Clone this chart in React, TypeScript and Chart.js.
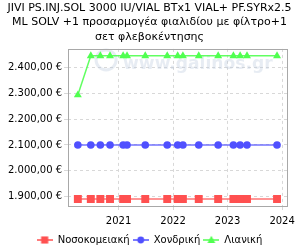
import React, { useEffect, useRef } from "react";
import { Chart, registerables } from "chart.js";

Chart.register(...registerables);

const titleLines = [
  "JIVI PS.INJ.SOL 3000 IU/VIAL BTx1 VIAL+ PF.SYRx2.5",
  "ML SOLV +1 προσαρμογέα φιαλιδίου με φίλτρο+1",
  "σετ φλεβοκέντησης",
];

const dates = [
  "2020-04-03", "2020-06-29", "2020-09-01", "2020-11-05",
  "2021-02-01", "2021-02-27", "2021-06-29", "2021-11-23",
  "2022-02-01", "2022-03-08", "2022-06-22", "2022-10-30",
  "2023-02-09", "2023-03-26", "2023-05-11", "2023-11-28",
];

const hospital = [1890, 1890, 1890, 1890, 1890, 1890, 1890, 1890, 1890, 1890, 1890, 1890, 1890, 1890, 1890, 1890];
const wholesale = [2100, 2100, 2100, 2100, 2100, 2100, 2100, 2100, 2100, 2100, 2100, 2100, 2100, 2100, 2100, 2100];
const retail = [2294, 2446, 2446, 2446, 2446, 2446, 2446, 2446, 2446, 2446, 2446, 2446, 2446, 2446, 2446, 2446];

const seriesNames = ["Νοσοκομειακή", "Χονδρική", "Λιανική"];
const yearTicks = [2021, 2022, 2023, 2024];
const priceTicks = [1900, 2000, 2100, 2200, 2300, 2400];

const xMin = 2020.075;
const xMax = 2024.095;
const yMin = 1863;
const yMax = 2473;

function toYear(s: string): number {
  const [y, m, d] = s.split("-").map(Number);
  const start = Date.UTC(y, 0, 1);
  const end = Date.UTC(y + 1, 0, 1);
  return y + (Date.UTC(y, m - 1, d) - start) / (end - start);
}

function fmtEuro(v: number): string {
  const s = Math.round(v).toString().replace(/\B(?=(\d{3})+(?!\d))/g, ".");
  return s + ",00 €";
}

function legendIcon(color: string, style: string, r: number): HTMLCanvasElement {
  const c = document.createElement("canvas");
  c.width = 16;
  c.height = 12;
  const ctx = c.getContext("2d")!;
  ctx.strokeStyle = color;
  ctx.lineWidth = 1.5;
  ctx.beginPath();
  ctx.moveTo(0, 6);
  ctx.lineTo(16, 6);
  ctx.stroke();
  ctx.fillStyle = color;
  ctx.beginPath();
  if (style === "rect") {
    const s = r * Math.SQRT1_2;
    ctx.rect(8 - s, 6 - s, 2 * s, 2 * s);
  } else if (style === "circle") {
    ctx.arc(8, 6, r, 0, Math.PI * 2);
  } else {
    ctx.moveTo(8, 6 - r);
    ctx.lineTo(8 + r * 0.95, 6 + r * 0.7);
    ctx.lineTo(8 - r * 0.95, 6 + r * 0.7);
    ctx.closePath();
  }
  ctx.fill();
  return c;
}

const frameAndMark = {
  id: "frameAndMark",
  beforeDatasetsDraw(chart: any) {
    const { ctx, chartArea } = chart;
    ctx.save();
    const col = "rgba(185,200,222,0.35)";
    ctx.strokeStyle = col;
    ctx.lineWidth = 3;
    ctx.beginPath();
    ctx.arc(chartArea.left + 38, chartArea.top + 11, 10, 0, Math.PI * 2);
    ctx.stroke();
    ctx.fillStyle = col;
    ctx.font = "bold 20px 'DejaVu Sans'";
    const txt = "www.galinos.gr";
    const w = ctx.measureText(txt).width;
    const size = 20 * 150 / w;
    ctx.font = "bold " + size.toFixed(1) + "px 'DejaVu Sans'";
    ctx.textBaseline = "alphabetic";
    ctx.fillText(txt, chartArea.left + 55, chartArea.top + 20);
    ctx.restore();
  },
  afterDraw(chart: any) {
    const { ctx, chartArea } = chart;
    ctx.save();
    ctx.strokeStyle = "#a8a8a8";
    ctx.lineWidth = 1;
    ctx.strokeRect(
      Math.round(chartArea.left) + 0.5,
      Math.round(chartArea.top) + 0.5,
      Math.round(chartArea.right - chartArea.left),
      Math.round(chartArea.bottom - chartArea.top)
    );
    ctx.restore();
  },
};

export default function App() {
  const ref = useRef<HTMLCanvasElement>(null);

  useEffect(() => {
    const xs = dates.map(toYear);
    const mk = (vals: number[]) => vals.map((v, i) => ({ x: xs[i], y: v }));
    const colors = ["#ff5050", "#5050ff", "#50ff50"];
    const lineColors = ["rgba(255,90,90,0.85)", "rgba(90,90,255,0.85)", "rgba(80,255,80,0.9)"];
    const styles = ["rect", "circle", "triangle"];
    const radii = [5.6, 3.8, 4.6];
    const values = [hospital, wholesale, retail];

    const chart = new Chart(ref.current!, {
      type: "line",
      data: {
        datasets: values.map((vals, i) => ({
          label: seriesNames[i],
          data: mk(vals),
          borderColor: lineColors[i],
          backgroundColor: colors[i],
          pointBackgroundColor: colors[i],
          pointBorderColor: colors[i],
          pointBorderWidth: 0,
          borderWidth: 1.5,
          pointStyle: styles[i] as any,
          pointRadius: radii[i],
          tension: 0,
        })),
      },
      options: {
        animation: false,
        responsive: false,
        devicePixelRatio: 1,
        layout: { padding: { left: 6, right: 7, top: 1, bottom: -5 } },
        plugins: {
          title: {
            display: true,
            text: titleLines,
            color: "#000",
            font: { family: "'DejaVu Sans'", size: 11, weight: "normal" as any, lineHeight: 1.3 },
            padding: { top: 0, bottom: 5 },
          },
          legend: {
            position: "bottom",
            labels: {
              usePointStyle: true,
              pointStyleWidth: 16,
              color: "#000",
              font: { family: "'DejaVu Sans'", size: 10 },
              padding: 3,
              generateLabels: () =>
                seriesNames.map((n, i) => ({
                  text: n,
                  pointStyle: legendIcon(colors[i], styles[i], radii[i] * 0.9) as any,
                  fillStyle: colors[i],
                  strokeStyle: colors[i],
                  lineWidth: 0,
                  hidden: false,
                  datasetIndex: i,
                })),
            },
          },
          tooltip: { enabled: false },
        },
        scales: {
          x: {
            type: "linear",
            min: xMin,
            max: xMax,
            afterBuildTicks: (axis: any) => {
              axis.ticks = yearTicks.map((v) => ({ value: v }));
            },
            ticks: {
              color: "#000",
              font: { family: "'DejaVu Sans'", size: 10 },
              callback: (v: any) => String(v),
              maxRotation: 0,
              padding: 5,
            },
            grid: { color: "#d8d8d8", tickLength: 4, tickColor: "#d8d8d8" },
            border: { dash: [3, 3], display: false },
          },
          y: {
            type: "linear",
            min: yMin,
            max: yMax,
            afterBuildTicks: (axis: any) => {
              axis.ticks = priceTicks.map((v) => ({ value: v }));
            },
            ticks: {
              color: "#000",
              font: { family: "'DejaVu Sans'", size: 10 },
              callback: (v: any) => fmtEuro(Number(v)),
              padding: 2,
            },
            grid: { color: "#d8d8d8", tickLength: 4, tickColor: "#d8d8d8" },
            border: { dash: [3, 3], display: false },
          },
        },
      },
      plugins: [frameAndMark],
    });
    return () => chart.destroy();
  }, []);

  return (
    <div style={{ position: "fixed", left: 0, top: 0, width: 300, height: 250, background: "#fff" }}>
      <canvas ref={ref} width={300} height={250} style={{ width: 300, height: 250 }} />
    </div>
  );
}
